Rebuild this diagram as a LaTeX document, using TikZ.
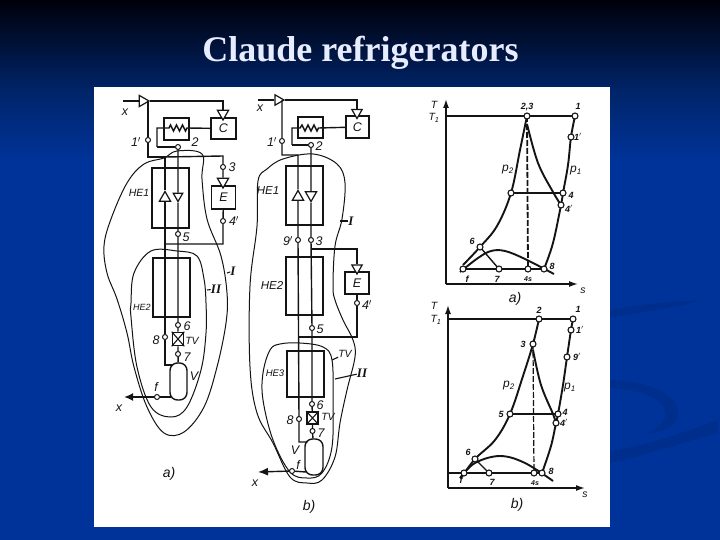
\documentclass[tikz,border=0pt]{standalone}
\usepackage{fontspec}
\setmainfont{Liberation Serif}
\newfontfamily\lblfont{Liberation Sans}
\usetikzlibrary{shapes.geometric,arrows.meta}
\definecolor{inkc}{HTML}{141414}
\definecolor{bluec}{HTML}{003399}
\definecolor{midc}{HTML}{002468}
\definecolor{topc}{HTML}{00000A}
\definecolor{swc}{HTML}{002E8C}
\definecolor{titlec}{HTML}{E8ECFF}
\tikzset{
  wire/.style={draw=inkc,line width=1.4pt},
  twire/.style={draw=inkc,line width=1.1pt},
  thickw/.style={draw=inkc,line width=2.4pt},
  env/.style={draw=inkc,line width=1pt,smooth cycle,tension=0.6},
  boxn/.style={draw=inkc,line width=1.6pt,rectangle,inner sep=0pt,fill=white},
  hebox/.style={draw=inkc,line width=1.6pt,rectangle,inner sep=0pt},
  jn/.style={circle,draw=inkc,fill=white,line width=1pt,inner sep=0pt,minimum size=5pt},
  tjn/.style={circle,draw=inkc,fill=white,line width=1.1pt,inner sep=0pt,minimum size=6pt},
  trin/.style={regular polygon,regular polygon sides=3,draw=inkc,fill=white,line width=1.2pt,inner sep=0pt,minimum size=13pt},
  vessel/.style={draw=inkc,line width=1.4pt,rectangle,rounded corners=7.5pt,inner sep=0pt,fill=white},
  lb/.style={font=\lblfont\itshape\fontsize{12.5}{12.5}\selectfont,text=inkc,inner sep=0pt},
  lbs/.style={font=\lblfont\itshape\fontsize{10.5}{10.5}\selectfont,text=inkc,inner sep=0pt},
  lbt/.style={font=\lblfont\itshape\bfseries\fontsize{9}{9}\selectfont,text=inkc,inner sep=0pt},
  lbp/.style={font=\lblfont\itshape\fontsize{12}{12}\selectfont,text=inkc,inner sep=0pt},
  lbo/.style={font=\lblfont\itshape\fontsize{14}{14}\selectfont,text=inkc,inner sep=0pt},
  lbr/.style={font=\itshape\bfseries\fontsize{13}{13}\selectfont,text=inkc,inner sep=0pt},
  curvet/.style={draw=inkc,line width=1.9pt},
  axist/.style={draw=inkc,line width=1.5pt,-{Latex[length=9pt,width=6pt]}},
}
\begin{document}
\begin{tikzpicture}[x=1pt,y=-1pt]
\useasboundingbox (0,0) rectangle (720,540);
% background
\shade[top color=topc,bottom color=midc] (0,0) rectangle (720,90);
\shade[top color=midc,bottom color=bluec] (0,89.5) rectangle (720,160);
\fill[bluec] (0,159.5) rectangle (720,540);
\fill[swc] (605,312) .. controls (640,303) and (670,302) .. (700,300) .. controls (670,310) and (640,312) .. (605,318) -- cycle;
\fill[swc] (605,380) .. controls (650,380) and (680,395) .. (678,415) .. controls (675,428) and (660,432) .. (645,434) .. controls (660,428) and (668,420) .. (665,410) .. controls (660,395) and (630,388) .. (605,388) -- cycle;
\fill[swc] (605,452) .. controls (650,445) and (690,430) .. (718,420) -- (718,433) .. controls (690,440) and (650,455) .. (605,464) -- cycle;
% title
\node[font=\bfseries\fontsize{36}{36}\selectfont,text=titlec,inner sep=0pt] (title) at (360.5,53) {Claude refrigerators};
% panel
\fill[white] (94,87) rectangle (610,527);

%% ---------- schematic a) ----------
\draw[env] plot coordinates {(202,154) (177,151) (164,158) (144,164) (127,183) (111,219) (104,246) (107,273) (117,299) (127,333) (134,367) (147,407) (164,433) (184,432) (204,407) (217,367) (226,323) (227,293) (221,256) (207,219) (202,179)};
\draw[env] plot coordinates {(131,303) (134,273) (151,251) (177,251) (197,256) (204,279) (206,303) (206,333) (201,370) (187,407) (171,417) (151,407) (137,367) (131,317)};

\node[boxn,minimum width=25pt,minimum height=22pt] (aHX) at (176.5,129) {};
\node[boxn,minimum width=25pt,minimum height=21pt] (aC) at (223.5,128.5) {};
\node[lb] at (aC) {C};
\node[hebox,minimum width=37pt,minimum height=60pt] (aHE1) at (170.5,198) {};
\node[hebox,minimum width=37pt,minimum height=59pt] (aHE2) at (171.5,287.5) {};
\node[boxn,minimum width=24pt,minimum height=23pt] (aE) at (223.5,197.5) {};
\node[lb] at (aE) {E};
\node[boxn,minimum width=11pt,minimum height=13pt] (aTV) at (178,339) {};
\draw[twire] (aTV.north west) -- (aTV.south east) (aTV.north east) -- (aTV.south west);
\node[vessel,minimum width=17pt,minimum height=37pt] (aV) at (178.5,381.5) {};

\node[trin,shape border rotate=-90] (aTin) at (142.5,101) {};
\node[trin,shape border rotate=180] (aTC) at (223,113.5) {};
\node[trin,shape border rotate=180] (aTE) at (223,181.5) {};
\node[trin] (aTU) at (165,198) {};
\node[trin,shape border rotate=180,minimum size=11pt] (aTD) at (178,196) {};
\node[jn] (a1p) at (148,140) {};
\node[jn] (a2) at (178,147) {};
\node[jn] (a3) at (223,167) {};
\node[jn] (a4p) at (223,221) {};
\node[jn] (a5) at (178,234) {};
\node[jn] (a6) at (178,325) {};
\node[jn] (a7) at (178,354) {};
\node[jn] (a8) at (165,337) {};
\node[jn] (af) at (157,397) {};
\coordinate (aXl) at (123,101);
\coordinate (aXo) at (124,397);
\coordinate (aTop) at (148,101);
\coordinate (aCorn) at (223,101);
\coordinate (aK) at (148,157);
\coordinate (aK2) at (165,157);
\coordinate (aK3) at (223,156);
\coordinate (aK4) at (223,244);
\coordinate (aK5) at (165,244);
\coordinate (aK6) at (165,365);
\coordinate (aVt) at (172.5,365);
\coordinate (aVf) at (171,397);
\coordinate (aL1) at (157,128);
\coordinate (aL2) at (157,147);
\coordinate (aZ0) at (165,128);
\coordinate (aZ1) at (188,128);

\draw[thickw] (aXl) -- (aTin);
\draw[wire] (aTin) -- (aCorn) -- (aTC);
\draw[wire] (aTop) -- (a1p) -- (aK) -- (aK2) -- (aTU) -- (a8) -- (aK6) -- (aVt);
\draw[wire] (aK2) -- (aK3) -- (a3) -- (aTE);
\draw[wire] (aE) -- (a4p) -- (aK4) -- (aK5);
\draw[wire] (a2) -- (aTD) -- (a5) -- (a6) -- (aTV) -- (a7) -- (aV);
\draw[wire] (aL2) -- (a2);
\draw[wire] (aL2) -- (aL1) -- (aZ0) -- ++(4,0) -- ++(1.5,-3) -- ++(3,6) -- ++(3,-6) -- ++(3,6) -- ++(3,-6) -- ++(3,6) -- ++(1.5,-3) -- (aC);
\draw[thickw] (af) -- (aVf);
\draw[thickw,-{Latex[length=9pt,width=8pt]}] (af) -- (aXo);

\node[lb] at (125,112) {x};
\node[lb] (l1p) at (136,142) {1$'$};
\node[lb] at (195,142) {2};
\node[lb] at (232,167) {3};
\node[lb] at (234,221) {4$'$};
\node[lb] at (186,237) {5};
\node[lb] at (187,326) {6};
\node[lb] at (187,357) {7};
\node[lb] at (156,340) {8};
\node[lbs] at (192,341) {TV};
\node[lb] at (194,376) {V};
\node[lb] at (156,387) {f};
\node[lb] at (119,408) {x};
\node[lbs] at (139,193) {HE1};
\node[lbs] at (142,307) {\fontsize{9}{9}\selectfont HE2};
\node[lbo] at (169,474) {a)};
\node[lbr] (aI) at (233,271) {I};
\node[lbr] (aII) at (216,289) {II};
\coordinate (aIc) at (227,273);
\coordinate (aIIc) at (207,290);
\draw[twire] (aI) -- (aIc);
\draw[twire] (aII) -- (aIIc);

%% ---------- schematic b) ----------
\draw[env] plot coordinates {(258,181) (267,169) (283,159) (313,154) (337,164) (345,183) (342,219) (335,246) (333,286) (335,300) (343,320) (353,340) (355,357) (347,390) (340,423) (335,457) (322,480) (307,483) (290,477) (273,443) (257,413) (250,367) (250,286) (257,226)};
\draw[env] plot coordinates {(270,350) (280,344) (300,343) (323,347) (332,360) (333,400) (332,447) (322,473) (307,478) (290,472) (273,440) (263,400) (263,373)};

\node[boxn,minimum width=25pt,minimum height=21pt] (bHX) at (310.5,127.5) {};
\node[boxn,minimum width=23pt,minimum height=22pt] (bC) at (357.5,127) {};
\node[lb] at (bC) {C};
\node[hebox,minimum width=37pt,minimum height=59pt] (bHE1) at (304.5,195.5) {};
\node[hebox,minimum width=37pt,minimum height=58pt] (bHE2) at (304.5,286) {};
\node[hebox,minimum width=37pt,minimum height=46pt] (bHE3) at (305.5,374) {};
\node[boxn,minimum width=24pt,minimum height=22pt] (bE) at (357,283) {};
\node[lb] at (bE) {E};
\node[boxn,minimum width=11pt,minimum height=12pt] (bTV) at (312.5,418) {};
\draw[twire] (bTV.north west) -- (bTV.south east) (bTV.north east) -- (bTV.south west);
\node[vessel,minimum width=18pt,minimum height=36pt] (bV) at (314,457) {};

\node[trin,shape border rotate=-90,minimum size=12pt] (bTin) at (278,100) {};
\node[trin,shape border rotate=180,minimum size=12pt] (bTC) at (357,112.5) {};
\node[trin,shape border rotate=180,minimum size=12pt] (bTE) at (357,268) {};
\node[trin] (bTU) at (298,197) {};
\node[trin,shape border rotate=180] (bTD) at (311,195) {};
\node[jn] (b1p) at (282,141) {};
\node[jn] (b2) at (311,145) {};
\node[jn] (b9p) at (298,240) {};
\node[jn] (b3) at (311,240) {};
\node[jn] (b4p) at (357,303) {};
\node[jn] (b5) at (312,328) {};
\node[jn] (b6) at (312,404) {};
\node[jn] (b7) at (312.5,431) {};
\node[jn] (b8) at (299,419) {};
\node[jn] (bf) at (292,471) {};
\coordinate (bXl) at (258,100);
\coordinate (bXo) at (258,472);
\coordinate (bTop) at (282,100);
\coordinate (bCorn) at (357,100);
\coordinate (bK) at (282,155);
\coordinate (bK2) at (298,155);
\coordinate (bK3) at (311,249);
\coordinate (bK4) at (357,249);
\coordinate (bK5) at (357,337);
\coordinate (bK6) at (299,337);
\coordinate (bK7) at (299,442);
\coordinate (bVt) at (307.5,442);
\coordinate (bVf) at (306,472);
\coordinate (bL1) at (292,128);
\coordinate (bL2) at (292,145);

\draw[wire] (bXl) -- (bTin);
\draw[wire] (bTin) -- (bCorn) -- (bTC);
\draw[wire] (bTop) -- (b1p) -- (bK) -- (bK2) -- (bTU) -- (b9p) -- (b8) -- (bK7) -- (bVt);
\draw[wire] (b2) -- (bTD) -- (b3) -- (b5) -- (b6) -- (bTV) -- (b7) -- (bV);
\draw[wire] (bK3) -- (bK4) -- (bTE);
\draw[wire] (bE) -- (b4p) -- (bK5) -- (bK6);
\draw[wire] (bL2) -- (b2);
\draw[wire] (bL2) -- (bL1) -- ++(8,0) -- ++(2,-3) -- ++(3,6) -- ++(3,-6) -- ++(3,6) -- ++(3,-6) -- ++(3,6) -- ++(1.5,-3) -- (bC);
\draw[wire] (bf) -- (bVf);
\draw[wire,-{Latex[length=10pt,width=8pt]}] (bf) -- (bXo);

\node[lb] at (260,108) {x};
\node[lb] at (272,142) {1$'$};
\node[lb] at (319,146) {2};
\node[lb] at (288,241) {9$'$};
\node[lb] at (319,241) {3};
\node[lb] at (367,305) {4$'$};
\node[lb] at (320,329) {5};
\node[lb] at (320,405) {6};
\node[lb] at (321,433) {7};
\node[lb] at (290,420) {8};
\node[lbs] at (328,417) {TV};
\node[lbs] (bTVl) at (345,354) {TV};
\node[lb] at (295,450) {V};
\node[lb] at (298,465) {f};
\node[lb] at (255,483) {x};
\node[lbs] at (268,191) {\fontsize{11.5}{11.5}\selectfont HE1};
\node[lbs] at (272,285) {\fontsize{11.5}{11.5}\selectfont HE2};
\node[lbs] at (275,373) {\fontsize{9.5}{9.5}\selectfont HE3};
\node[lbo] at (309,507) {b)};
\node[lbr] (bI) at (351,221) {I};
\node[lbr] (bII) at (362,373) {II};
\coordinate (bIc) at (340,221);
\coordinate (bIIc) at (335,379);
\coordinate (bTVc) at (332,360);
\draw[twire] (bI) -- (bIc);
\draw[twire] (bII) -- (bIIc);
\draw[twire] (bTVl) -- (bTVc);

%% ---------- T-s a) ----------
\coordinate (tO) at (446,284);
\coordinate (tTop) at (446,99);
\coordinate (tR) at (578,284);
\coordinate (t23) at (527,116);
\coordinate (t1) at (575,116);
\coordinate (t1p) at (571,137);
\coordinate (t4) at (563,193);
\coordinate (t4p) at (561,205);
\coordinate (t8) at (544,269);
\coordinate (t4s) at (528,269);
\coordinate (t7) at (499,269);
\coordinate (tf) at (463,269);
\coordinate (t5) at (511,193);
\coordinate (t6) at (480,247);
\coordinate (tT1) at (446,116);
\draw[axist] (tO) -- (tTop);
\draw[axist] (tO) -- (tR);
\draw[twire] (tT1) -- (t1);
\draw[twire] (t5) -- (t4);
\draw[twire] (tf) -- (t8);
\draw[curvet] plot[smooth,tension=0.6] coordinates {(t1) (t1p) (568,165) (t4) (t4p) (553,243) (t8)};
\draw[curvet] plot[smooth,tension=0.6] coordinates {(t23) (520,150) (t5) (497,226) (t6) (463,265)};
\draw[curvet] plot[smooth,tension=0.6] coordinates {(527,124) (538,163) (553,192) (t4p)};
\draw[draw=inkc,line width=1.8pt,dash pattern=on 6pt off 2pt] (t23) -- (t4s);
\draw[curvet] plot[smooth,tension=0.6] coordinates {(460,272) (478,258) (491,251) (505,251) (525,259) (554,274)};
\draw[wire] (t6) -- (t7);
\foreach \p in {t23,t1,t1p,t4,t4p,t8,t4s,t7,tf,t5,t6} {\node[tjn] (n\p) at (\p) {};}
\node[lbt] at (527,107) {2,3};
\node[lbt] at (578,106) {1};
\node[lbt] at (578,137) {1$'$};
\node[lbt] at (571,195) {4};
\node[lbt] at (569,209) {4$'$};
\node[lbt] at (552,266) {8};
\node[lbt] at (528,279) {\fontsize{7}{7}\selectfont 4s};
\node[lbt] at (497,279) {7};
\node[lbt] at (467,279) {f};
\node[lbt] at (472,241) {6};
\node[lbp] at (508,170) {p\textsubscript{2}};
\node[lbp] at (576,171) {p\textsubscript{1}};
\node[lbs] at (434,105) {T};
\node[lbs] at (434,118) {T\textsubscript{1}};
\node[lbs] at (583,291) {s};
\node[lbo] at (515,299) {a)};

%% ---------- T-s b) ----------
\coordinate (uO) at (448,488);
\coordinate (uTop) at (448,305);
\coordinate (uR) at (585,488);
\coordinate (uT1) at (448,319);
\coordinate (u2) at (539,319);
\coordinate (u1) at (573,319);
\coordinate (u1p) at (571,330);
\coordinate (u9p) at (567,357);
\coordinate (u3) at (533,344);
\coordinate (u4) at (558,414);
\coordinate (u4p) at (556,423);
\coordinate (u8) at (542,473);
\coordinate (u4s) at (534,473);
\coordinate (u7) at (489,473);
\coordinate (uf) at (464,473);
\coordinate (u5) at (510,414);
\coordinate (u6) at (475,459);
\coordinate (uL) at (448,473);
\draw[axist] (uO) -- (uTop);
\draw[axist] (uO) -- (uR);
\draw[twire] (uT1) -- (u1);
\draw[wire,line width=1.6pt] (u5) -- (u4);
\draw[twire] (uL) -- (u8);
\draw[curvet] plot[smooth,tension=0.6] coordinates {(u1) (u1p) (u9p) (563,385) (u4) (u4p) (551,446) (u8)};
\draw[curvet] plot[smooth,tension=0.6] coordinates {(u2) (u3) (523,376) (u5) (495,440) (u6) (461,478)};
\draw[curvet] plot[smooth,tension=0.6] coordinates {(533,350) (541,385) (553,414) (u4p)};
\draw[draw=inkc,line width=1.2pt,dash pattern=on 6pt off 2pt] (u3) -- (u4s);
\draw[curvet] plot[smooth,tension=0.6] coordinates {(460,478) (475,463) (500,456) (525,463) (553,481)};
\draw[wire] (u6) -- (u7);
\foreach \p in {u2,u1,u1p,u9p,u3,u4,u4p,u8,u4s,u7,uf,u5,u6} {\node[tjn] (n\p) at (\p) {};}
\node[lbt] at (539,310) {2};
\node[lbt] at (578,309) {1};
\node[lbt] at (580,330) {1$'$};
\node[lbt] at (577,357) {9$'$};
\node[lbt] at (523,344) {3};
\node[lbt] at (565,412) {4};
\node[lbt] at (564,423) {4$'$};
\node[lbt] at (551,471) {8};
\node[lbt] at (535,483) {\fontsize{7}{7}\selectfont 4s};
\node[lbt] at (492,482) {7};
\node[lbt] at (461,480) {f};
\node[lbt] at (468,452) {6};
\node[lbt] at (501,414) {5};
\node[lbp] at (509,386) {p\textsubscript{2}};
\node[lbp] at (570,388) {p\textsubscript{1}};
\node[lbs] at (434,306) {T};
\node[lbs] at (436,320) {T\textsubscript{1}};
\node[lbs] at (585,495) {s};
\node[lbo] at (517,505) {b)};
\end{tikzpicture}
\end{document}
